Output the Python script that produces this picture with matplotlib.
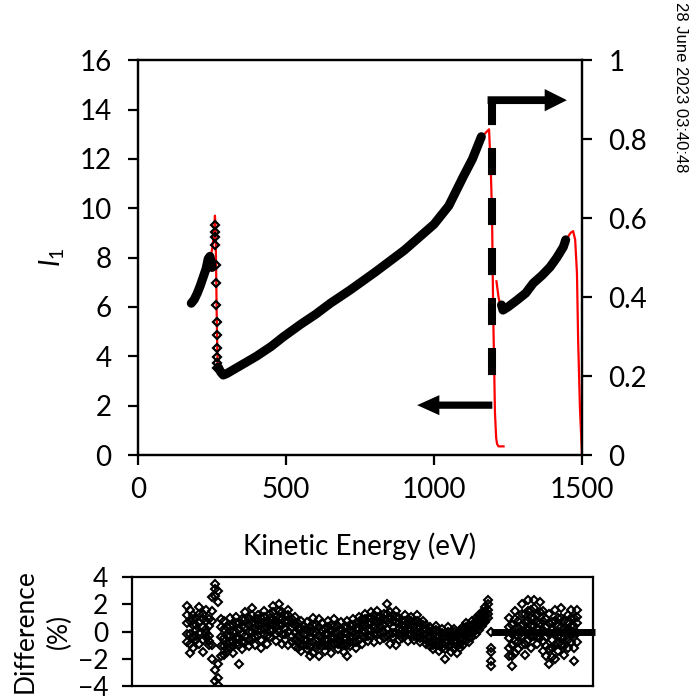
import matplotlib
matplotlib.use('Agg')
import matplotlib.pyplot as plt
import numpy as np

plt.rcParams['font.family'] = ['Lato', 'DejaVu Sans']
plt.rcParams['mathtext.fontset'] = 'custom'
plt.rcParams['mathtext.it'] = 'Lato:italic'
plt.rcParams['mathtext.rm'] = 'Lato'
plt.rcParams['lines.scale_dashes'] = False

# ---------------- data ----------------
# measured I1, low-energy segment (left axis)
meas1a_E = [180, 190, 200, 210, 220, 230, 237, 243, 248, 250]
meas1a_I = [6.15, 6.3, 6.55, 6.85, 7.2, 7.55, 7.95, 8.05, 7.8, 7.6]
# sparse points on the steep edge
drop_E = [260, 260, 261, 261, 263, 264, 265, 266, 266, 267, 267, 268, 268]
drop_I = [9.31, 9.03, 8.83, 8.5, 7.7, 6.97, 6.08, 5.39, 4.86, 4.33, 3.97, 3.73, 3.52]
# measured I1, main segment (left axis)
meas1b_E = [271, 280, 288, 300, 350, 400, 450, 490, 550, 600, 650, 716, 800, 900,
            1000, 1050, 1098, 1130, 1150, 1160]
meas1b_I = [3.56, 3.35, 3.24, 3.3, 3.65, 4.0, 4.4, 4.78, 5.3, 5.7, 6.15, 6.68, 7.4,
            8.3, 9.35, 10.1, 11.26, 12.0, 12.6, 12.9]
# fit curve A (left axis)
fitA_E = [180, 200, 220, 240, 250, 256, 260, 262, 264, 266, 268, 270, 280, 288, 300, 400,
          490, 600, 716, 800, 900, 1000, 1098, 1150, 1170, 1186, 1192, 1196, 1200,
          1206, 1210, 1213, 1218, 1235]
fitA_I = [6.15, 6.55, 7.2, 7.85, 8.3, 8.9, 9.7, 9.2, 7.5, 5.6, 4.2, 3.55, 3.3, 3.24, 3.3, 4.0,
          4.78, 5.7, 6.68, 7.4, 8.3, 9.35, 11.26, 12.6, 13.0, 13.2, 11.5, 9.8, 5.75,
          1.7, 0.7, 0.45, 0.35, 0.35]
# measured, high-energy segment (right axis)
meas2_E = [1228, 1233, 1250, 1280, 1310, 1335, 1365, 1392, 1415, 1437, 1445]
meas2_R = [0.38, 0.367, 0.375, 0.392, 0.41, 0.435, 0.455, 0.476, 0.50, 0.527, 0.545]
# fit curve B (right axis)
fitB_E = [1211, 1218, 1225, 1233, 1250, 1280, 1310, 1335, 1365, 1392, 1415, 1437, 1450,
          1462, 1470, 1477, 1483, 1487, 1493, 1500]
fitB_R = [0.44, 0.40, 0.375, 0.367, 0.375, 0.392, 0.41, 0.435, 0.455, 0.476, 0.50, 0.527,
          0.55, 0.563, 0.567, 0.545, 0.46, 0.29, 0.12, 0.0]

# difference panel
diff1_E = [180, 190, 200, 210, 220, 230, 240, 250, 260, 270,
           280, 290, 300, 310, 320, 330, 340, 350, 360, 370,
           380, 390, 400, 410, 420, 430, 440, 450, 460, 470,
           480, 490, 500, 510, 520, 530, 540, 550, 560, 570,
           580, 590, 600, 610, 620, 630, 640, 650, 660, 670,
           680, 690, 700, 710, 720, 730, 740, 750, 760, 770,
           780, 790, 800, 810, 820, 830, 840, 850, 860, 870,
           880, 890, 900, 910, 920, 930, 940, 950, 960, 970,
           980, 990, 1000, 1010, 1020, 1030, 1040, 1050, 1060, 1070,
           1080, 1090, 1100, 1110, 1120, 1130, 1140, 1150, 1160]
diff1_hi = [1.9, 1.6, 1.2, 1.0, 1.8, 1.3, 1.6, 0.9, 2.5, 3.5,
            3.0, 0.9, 0.8, 0.3, 1.0, 0.5, 1.1, 0.6, 0.9, 1.4,
            1.0, 1.7, 0.9, 1.2, 1.0, 1.5, 0.8, 1.3, 1.9, 1.1,
            2.0, 1.4, 1.2, 1.6, 0.9, 1.1, 0.6, 0.8, 0.4, 0.7,
            0.3, 1.0, 0.5, 0.9, 0.6, 0.2, 0.8, 0.5, 0.9, 0.4,
            0.7, 0.3, 0.8, 0.5, 0.9, 0.6, 1.1, 0.9, 1.3, 1.0,
            1.4, 1.2, 1.5, 1.1, 1.3, 2.0, 1.4, 1.2, 1.5, 1.0,
            0.8, 1.2, 0.9, 1.1, 0.7, 1.2, 0.6, 0.8, 0.5, 0.3,
            0.1, 0.4, 0.0, 0.2, -0.1, 0.3, 0.0, 0.2, -0.2, 0.1,
            0.3, 0.6, 0.5, 0.8, 1.0, 1.2, 1.4, 1.8, 2.3]
diff1_um = [1.2, 0.8, 0.9, 0.5, 1.3, 0.9, 0.8, 0.4, 1.5, 2.6,
            2.2, 0.3, 0.2, -0.3, 0.4, 0.0, 0.6, 0.1, 0.4, 0.9,
            0.5, 1.2, 0.6, 0.9, 0.6, 1.1, 0.6, 1.0, 1.4, 0.8,
            1.5, 0.9, 0.7, 1.2, 0.6, 0.5, 0.2, 0.2, 0.1, 0.1,
            0.0, 0.5, -0.1, 0.3, 0.1, -0.2, 0.3, 0.1, 0.4, -0.1,
            0.2, -0.1, 0.3, 0.1, 0.5, 0.2, 0.7, 0.6, 0.9, 0.6,
            1.0, 0.8, 1.1, 0.8, 0.9, 1.3, 1.0, 0.8, 1.1, 0.6,
            0.5, 0.8, 0.6, 0.8, 0.4, 0.8, 0.3, 0.5, 0.2, 0.0,
            -0.2, 0.1, -0.3, -0.1, -0.4, 0.0, -0.3, 0.0, -0.4, -0.2,
            0.1, 0.3, 0.2, 0.5, 0.7, 1.0, 1.2, 1.5, 2.0]
diff1_mid = [0.6, -0.2, 0.5, 0.1, 0.7, 0.3, 0.2, -0.3, 0.8, 3.1,
             -2.4, -0.4, -0.5, -0.9, -0.3, -0.7, 0.0, -0.5, -0.2, 0.3,
             0.0, 0.6, 0.2, 0.5, 0.1, 0.7, 0.3, 0.6, 0.9, 0.4,
             1.0, 0.5, 0.2, 0.8, 0.3, -0.1, -0.3, -0.5, -0.2, -0.6,
             -0.4, -0.1, -0.7, -0.3, -0.5, -0.6, -0.2, -0.4, -0.1, -0.6,
             -0.3, -0.5, -0.2, -0.4, 0.0, -0.3, 0.2, 0.4, 0.5, 0.1,
             0.6, 0.3, 0.7, 0.4, 0.5, 0.8, 0.6, 0.3, 0.7, 0.2,
             0.1, 0.4, 0.2, 0.5, 0.0, 0.3, -0.1, 0.2, -0.2, -0.4,
             -0.6, -0.3, -0.7, -0.5, -0.8, -0.4, -0.6, -0.3, -0.7, -0.5,
             -0.2, 0.0, -0.1, 0.2, 0.4, 0.7, 0.9, 1.2, 1.6]
diff1_lm = [-0.2, -0.9, -0.4, -0.3, -0.1, -0.6, -0.1, -0.7, -1.0, -2.8,
            -3.4, -1.1, -1.1, -1.2, -0.8, -1.1, -0.5, -1.0, -0.8, -0.3,
            -0.6, 0.0, -0.4, 0.1, -0.6, 0.2, -0.3, 0.1, 0.5, -0.2,
            0.5, -0.2, -0.2, 0.0, -0.3, -0.6, -0.8, -1.0, -0.6, -1.0,
            -1.1, -0.8, -1.0, -1.0, -0.8, -1.0, -0.6, -1.0, -0.5, -0.9,
            -0.7, -1.0, -1.0, -0.8, -0.4, -0.8, -0.2, -0.3, 0.0, -0.3,
            0.1, -0.2, 0.2, -0.1, 0.0, 0.2, -0.2, -0.1, -0.1, -0.2,
            -0.2, 0.0, -0.2, 0.1, -0.3, -0.1, -0.5, -0.2, -0.6, -0.8,
            -1.0, -0.7, -1.0, -0.9, -1.3, -0.8, -1.0, -0.8, -1.1, -0.9,
            -0.6, -0.4, -0.5, -0.1, 0.1, 0.4, 0.6, 0.9, 1.3]
diff1_lo = [-0.8, -1.6, -1.2, -0.6, -0.9, -1.5, -0.4, -1.0, -2.0, -3.6,
            -3.9, -1.8, -1.7, -1.5, -1.2, -1.6, -0.9, -2.4, -1.3, -0.8,
            -1.1, -0.5, -1.0, -0.3, -1.2, -0.2, -0.9, -0.4, 0.1, -0.7,
            0.0, -0.9, -0.6, -1.0, -0.8, -1.1, -1.2, -1.4, -1.0, -1.3,
            -1.8, -1.6, -1.2, -1.8, -1.1, -1.4, -1.0, -1.6, -0.9, -1.3,
            -1.0, -1.5, -1.8, -1.1, -0.8, -1.2, -0.6, -0.9, -0.4, -0.7,
            -0.3, -0.8, -0.2, -0.6, -0.5, -0.3, -0.9, -0.4, -1.0, -0.6,
            -0.5, -0.3, -0.7, -0.2, -0.6, -0.4, -0.8, -0.5, -0.9, -1.1,
            -1.3, -1.0, -1.4, -1.2, -2.0, -1.1, -1.5, -1.3, -1.6, -1.2,
            -1.0, -0.7, -0.8, -0.4, -0.2, 0.1, 0.4, 0.7, 1.0]
diff2_E = [1230, 1240, 1250, 1260, 1270, 1280, 1290, 1300, 1310, 1320, 1330, 1340,
           1350, 1360, 1370, 1380, 1390, 1400, 1410, 1420, 1430, 1440, 1450]
diff2_hi = [1.0, 0.5, 1.5, 0.8, 2.0, 1.3, 2.3, 1.6, 2.3, 1.2, 2.2, 1.5,
            0.9, 1.3, 0.7, 1.6, 1.0, 1.7, 0.8, 1.2, 1.6, 1.0, 1.6]
diff2_um = [0.3, -0.2, 0.9, 0.3, 1.3, 0.7, 1.5, 1.0, 1.7, 0.7, 1.4, 0.8,
            0.3, 0.6, 0.1, 0.8, 0.4, 1.0, 0.2, 0.7, 1.0, 0.4, 1.1]
diff2_mid = [-0.5, -1.0, 0.2, -0.3, 0.5, 0.0, 0.8, 0.4, 1.0, 0.2, 0.6, 0.1,
             -0.4, -0.2, -0.6, 0.0, -0.3, 0.3, -0.5, 0.1, 0.4, -0.2, 0.6]
diff2_lm = [-1.2, -1.8, -0.7, -0.8, -0.3, -0.9, 0.1, -0.4, 0.4, -0.4, -0.1, -0.7,
            -1.1, -1.3, -1.2, -1.0, -0.9, -0.4, -1.1, -0.6, -0.2, -1.2, -0.1]
diff2_lo = [-1.8, -2.5, -1.6, -1.3, -1.0, -1.7, -0.6, -1.2, -0.3, -0.9, -0.5, -1.4,
            -1.8, -2.4, -1.9, -2.0, -1.4, -1.0, -1.7, -1.2, -0.8, -2.2, -0.8]
edge_E = [1170, 1170, 1170, 1170, 1170]
edge_D = [0.0, -1.2, -1.5, -2.2, -2.5]
zero_E = [1170, 1510]
zero_D = [0.0, 0.0]

left_ticks = [0, 2, 4, 6, 8, 10, 12, 14, 16]
right_ticks = [0, 0.2, 0.4, 0.6, 0.8, 1.0]
right_labels = ['0', '0.2', '0.4', '0.6', '0.8', '1']
x_ticks = [0, 500, 1000, 1500]
diff_ticks = [-4, -2, 0, 2, 4]

# ---------------- figure ----------------
fig = plt.figure(figsize=(6.97, 7.0), dpi=100)
ax = fig.add_axes([0.198, 0.35, 0.637, 0.564])
ax2 = ax.twinx()
axd = fig.add_axes([0.1894, 0.02, 0.6614, 0.1557])

FS = 20
red = '#ff0000'

ax.plot(fitA_E, fitA_I, color=red, lw=1.6, zorder=2)
ax.plot(meas1a_E, meas1a_I, color='k', lw=6.5, solid_capstyle='round', zorder=3)
ax.plot(meas1b_E, meas1b_I, color='k', lw=6.5, solid_capstyle='round', zorder=3)
ax.plot(drop_E, drop_I, ls='none', marker='D', ms=4.5, mfc='none', mec='k', mew=1.6, zorder=3)

ax2.plot(fitB_E, fitB_R, color=red, lw=1.6, zorder=2)
ax2.plot(meas2_E, meas2_R, color='k', lw=6.5, solid_capstyle='round', zorder=3)

# arrows indicating which axis applies
ax.annotate('', xy=(943, 2.02), xytext=(1197, 2.02),
            arrowprops=dict(arrowstyle='simple,head_length=0.8,head_width=0.72,tail_width=0.26',
                            fc='k', ec='none', shrinkA=0, shrinkB=0, mutation_scale=20),
            zorder=5)
ax.plot([1195, 1195], [14.45, 2.9], color='k', lw=5.8, dashes=(19.5, 16.5),
        solid_capstyle='butt', dash_capstyle='butt', zorder=5)
ax.annotate('', xy=(1449, 14.38), xytext=(1181, 14.38),
            arrowprops=dict(arrowstyle='simple,head_length=0.8,head_width=0.8,tail_width=0.28',
                            fc='k', ec='none', shrinkA=0, shrinkB=0, mutation_scale=20),
            zorder=5)

ax.set_xlim(0, 1500)
ax.set_ylim(0, 16)
ax2.set_ylim(0, 1)
ax.set_xticks(x_ticks)
ax.set_yticks(left_ticks)
ax2.set_yticks(right_ticks)
ax2.set_yticklabels(right_labels)

for a in (ax, ax2, axd):
    for s in a.spines.values():
        s.set_linewidth(1.6)
ax.tick_params(axis='both', direction='out', length=7, width=1.6, labelsize=FS)
ax.tick_params(axis='y', pad=12)
ax.tick_params(axis='x', pad=9)
ax2.tick_params(axis='y', direction='out', length=7, width=1.6, labelsize=FS, pad=12)

ax.set_xlabel('Kinetic Energy (eV)', fontsize=FS)
ax.xaxis.set_label_coords(0.5, -0.195)
ax.set_ylabel(r'$\mathit{I}_{1}$', fontsize=FS)
ax.yaxis.set_label_coords(-0.16, 0.5)

# difference panel
mk = dict(ls='none', marker='D', ms=3.8, mfc='none', mec='k', mew=1.5)
for vals in (diff1_hi, diff1_um, diff1_mid, diff1_lm, diff1_lo):
    axd.plot(diff1_E, vals, **mk)
for vals in (diff2_hi, diff2_um, diff2_mid, diff2_lm, diff2_lo):
    axd.plot(diff2_E, vals, **mk)
axd.plot(edge_E, edge_D, **mk)
axd.plot(zero_E, zero_D, color='k', lw=5, clip_on=False, solid_capstyle='butt')
axd.set_xlim(0, 1503)
axd.set_ylim(-4, 4)
axd.set_yticks(diff_ticks)
axd.set_xticks([])
axd.tick_params(axis='y', direction='out', length=7, width=1.6, labelsize=19, pad=10)
axd.set_ylabel('Difference\n(%)', fontsize=19, linespacing=1.45)
axd.yaxis.set_label_coords(-0.13, 0.5)

fig.text(0.976, 0.997, '28 June 2023 03:40:48', rotation=-90, ha='center', va='top',
         fontsize=12, family='Liberation Sans')

fig.savefig('out.png', dpi=100)
